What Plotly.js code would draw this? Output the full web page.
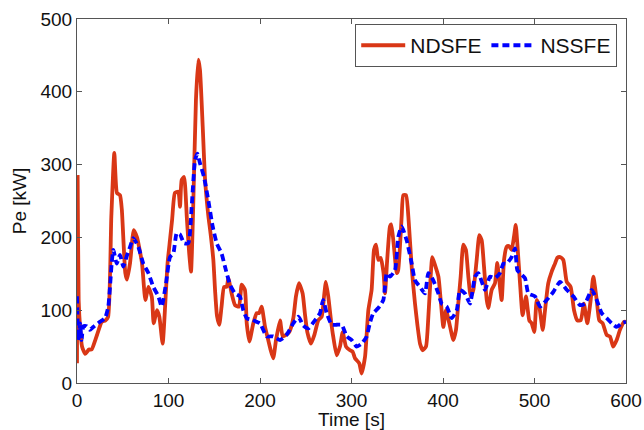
<!DOCTYPE html>
<html>
<head>
<meta charset="utf-8">
<script src="https://cdn.plot.ly/plotly-3.0.1.min.js"></script>
<style>html,body{margin:0;padding:0;background:#fff;}#chart{width:644px;height:430px;}</style>
</head>
<body>
<div id="chart"></div>
<script>
var ndsfeTime = [0,0.7,1.8,3.6,5.5,9,13,16,20,23.7,27,31,34,37.5,40.8,43.7,47,49,52.8,54.6,58,62,65.6,71,74.7,78,81.8,83.8,87.4,90,93.6,96.5,99,101.6,104,107,110.7,112.6,114.4,117,120,122.5,124.6,127,130,132.6,134.4,137.4,140,143.5,146,149,151,153,155.5,158,160.7,163.6,165.4,169,172.7,177,180,183.5,185.5,188.4,192.7,196.4,199,201.8,205.5,209,211.7,214.5,217.5,221.9,224.8,228.4,232,236.4,239.3,242.6,246.6,249,251.7,255.7,259.4,263.7,267.4,270,272,274.6,277.6,280,283.8,287.4,290.4,294,298.4,301.3,303.8,308.5,311,314.8,318.4,322,324.6,326.8,329.3,331.9,335,336.6,339,342,343.5,346.4,349.4,351,354.8,356.6,359.6,362.5,366,369.4,372,374.9,377.8,381.4,384,386.5,388.3,391.3,395,397.5,400.4,403.3,406.9,411.3,414.2,416.7,419.3,422.2,425,427.7,430.3,433.2,436.8,439.7,442.3,444.8,447.8,449.5,453.2,456.8,459.3,461.5,464.1,466.7,469.6,472,475,477.6,479.5,481.2,484.2,487,490.7,494.3,496.9,499.8,502.4,505.2,509,511.5,515,518.8,522.4,525,528,531.5,535.2,539.5,543.2,546.8,550.5,554,557.7,561.4,564.3,568,570.8,574.5,578.9,582.5,586,589.8,593.4,597.8,600];
var ndsfeValue = [27,283,114,73,50,40,46,46,59,73,84,86,91,228,316,261,258,238,151,142,165,210,200,165,114,132,118,82,100,91,54,110,165,196,225,261,263,242,279,283,228,180,153,242,389,444,430,352,279,230,205,169,125,92,80,105,132,132,144,123,107,105,135,128,82,57,82,96,96,105,77,59,45,34,59,86,64,66,70,89,119,137,123,96,70,54,66,86,91,119,139,119,86,64,38,50,70,50,45,43,34,27,13,36,100,128,183,190,169,172,151,123,169,215,218,187,151,155,228,258,258,222,155,109,80,54,45,50,91,146,173,162,146,114,77,100,82,59,73,109,146,190,183,146,119,128,169,203,196,160,114,103,128,137,165,141,114,169,187,188,183,201,217,192,137,93,119,86,82,70,114,105,73,100,137,153,164,172,173,169,139,132,100,86,86,109,82,114,146,114,86,82,66,64,50,59,73,84,84];
var nssfeTime = [0,1.5,3.3,5,7,10.6,14,17.8,25,30.6,34.2,37.9,39.7,43.4,47,50.6,54.3,58,61.5,67,72.5,78,83.4,88.9,92.5,97.3,101.6,105.3,109,112.6,117,121.7,125.3,129,131.5,134.4,138.8,143.5,148.3,152.7,158,161.7,167.2,172.7,178,181.7,185.5,191,196.4,200,207.3,214.5,221.9,229,236.4,241.9,247.3,252.8,260,265.6,269,272.9,278.4,283.8,289.3,294.8,300.2,305.7,311,316.6,320,323.8,329.3,334.8,338.5,342,347.5,351.2,354.8,360.3,365.8,369.4,374.9,380.3,384,389.4,394.9,398.6,404,409.5,415,418.6,424,429.5,435,438.6,445.9,451.4,456.8,462.3,466,469.6,475,478.7,481.2,484.2,489.6,493.3,500.5,506,513.3,520.5,527.9,535.2,542.4,549.7,555.2,562.5,568,573.4,578.9,584.4,589.8,595.2,600];
var nssfeValue = [119,59,82,59,78,78,73,77,84,89,105,164,183,164,176,160,174,187,199,187,164,151,132,119,105,137,173,178,206,204,192,192,242,306,315,302,283,251,215,192,178,160,135,123,119,100,89,87,84,82,64,64,59,66,82,91,79,75,86,96,114,96,80,80,80,64,59,50,54,64,82,96,103,114,151,146,155,201,215,196,164,141,132,123,151,141,123,109,105,89,100,128,123,109,146,151,128,146,144,151,164,164,173,185,155,151,144,123,119,105,114,125,139,128,119,107,109,128,114,96,89,82,77,82,84];
var xTickValues = [0,100,200,300,400,500,600];
var yTickValues = [0,100,200,300,400,500];
var seriesNames = ["NDSFE","NSSFE"];

var fontFam = "Liberation Sans, Arial, Helvetica, sans-serif";
var traces = [
  {x: ndsfeTime, y: ndsfeValue, name: seriesNames[0], type: "scatter", mode: "lines",
   line: {color: "rgb(217,55,22)", width: 3.8, shape: "spline", smoothing: 0.5}},
  {x: nssfeTime, y: nssfeValue, name: seriesNames[1], type: "scatter", mode: "lines",
   line: {color: "rgb(0,0,255)", width: 3.8, dash: "7px,4px", shape: "spline", smoothing: 0.5}}
];
var axisCommon = {
  showline: true, linecolor: "#555", linewidth: 1, mirror: "ticks",
  ticks: "inside", ticklen: 5, tickcolor: "#555", showgrid: false, zeroline: false,
  tickfont: {family: fontFam, size: 19, color: "#111"}
};
var layout = {
  width: 644, height: 430,
  margin: {l: 77, r: 18, t: 19, b: 47},
  paper_bgcolor: "#fff", plot_bgcolor: "#fff",
  font: {family: fontFam, color: "#111"},
  xaxis: Object.assign({}, axisCommon, {range: [0, 600], tickvals: xTickValues,
    title: {text: "Time [s]", font: {family: fontFam, size: 19, color: "#111"}, standoff: 2}}),
  yaxis: Object.assign({}, axisCommon, {range: [0, 500], tickvals: yTickValues,
    title: {text: "Pe [kW]", font: {family: fontFam, size: 19, color: "#111"}, standoff: 8}}),
  legend: {orientation: "h", x: 0.984, xanchor: "right", y: 0.986, yanchor: "top",
    bgcolor: "#fff", bordercolor: "#555", borderwidth: 1,
    font: {family: fontFam, size: 21, color: "#111"}, tracegroupgap: 0, itemwidth: 44},
  showlegend: true
};
Plotly.newPlot("chart", traces, layout, {displayModeBar: false, staticPlot: true});
</script>
</body>
</html>
